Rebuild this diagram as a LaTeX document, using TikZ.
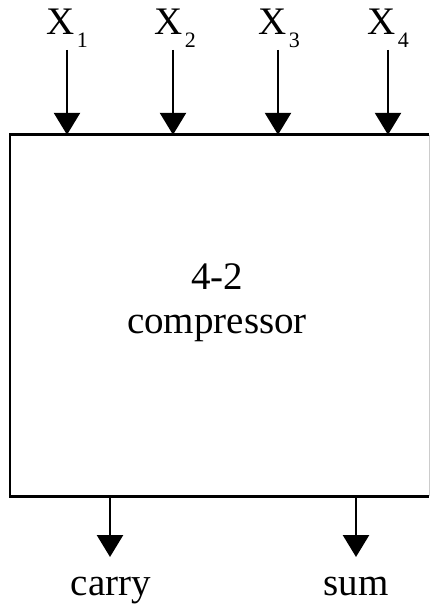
\documentclass[tikz,border=0pt]{standalone}
\usepackage{fontspec}
\setmainfont{Liberation Serif}
\usetikzlibrary{arrows.meta}
\tikzset{
  big/.style={font=\fontsize{39}{43}\selectfont, inner sep=0pt},
  sig/.style={line width=2.6pt, -{Triangle[width=26pt,length=22pt]}},
  boxline/.style={line width=2.6pt},
}
\newcommand{\xin}[1]{X\hspace{2.5pt}\raisebox{-13pt}{\fontsize{22}{22}\selectfont #1}}
\begin{document}
\begin{tikzpicture}[x=1pt,y=-1pt]
\useasboundingbox (0,0) rectangle (430,604);
% box
\node[inner sep=0pt, minimum width=419pt, minimum height=361pt] (box) at (219.5,315.5) {};
\draw[boxline] (box.north east) -- (box.north west) -- (box.south west) -- (box.south east);
\draw[line width=1pt, black!20] (box.north east) -- (box.south east);
% centre text
\node[big, anchor=base] (t1) at (217,289) {4-2};
\node[big, anchor=base] (t2) at (217,333) {compressor};
% inputs
\node[big, anchor=base] (x1) at (67,35) {\xin{1}};
\node[big, anchor=base] (x2) at (175,35) {\xin{2}};
\node[big, anchor=base] (x3) at (279,35) {\xin{3}};
\node[big, anchor=base] (x4) at (388,35) {\xin{4}};
\coordinate (s1) at (67,50);
\coordinate (s2) at (173,50);
\coordinate (s3) at (278,50);
\coordinate (s4) at (388,50);
\draw[sig] (s1) -- (s1 |- box.north);
\draw[sig] (s2) -- (s2 |- box.north);
\draw[sig] (s3) -- (s3 |- box.north);
\draw[sig] (s4) -- (s4 |- box.north);
% outputs
\coordinate (c0) at (110,496);
\coordinate (c1) at (110,557);
\coordinate (u0) at (356,496);
\coordinate (u1) at (356,557);
\draw[sig] (c0) -- (c1);
\draw[sig] (u0) -- (u1);
\node[big, anchor=base] (carry) at (111,595) {carry};
\node[big, anchor=base] (sum) at (356,595) {sum};
\end{tikzpicture}
\end{document}
